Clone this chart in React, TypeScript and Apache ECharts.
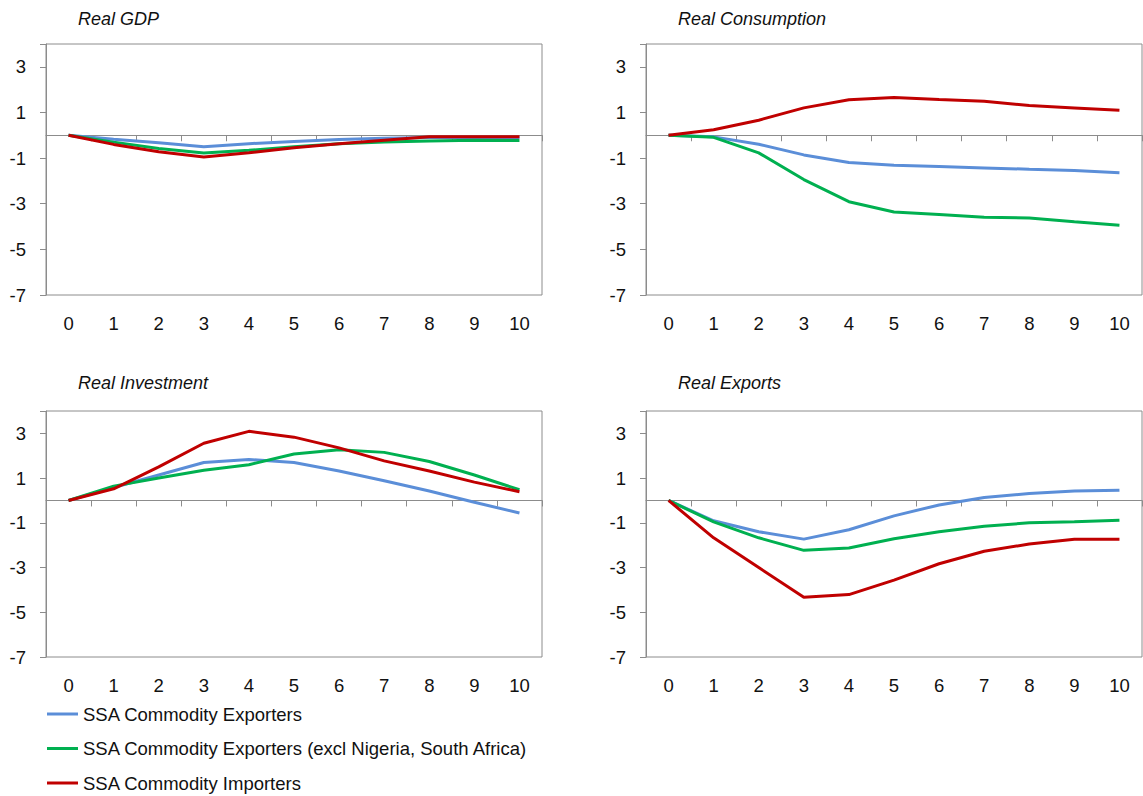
import React, { useEffect, useRef } from 'react';
import * as echarts from 'echarts';

// Periods after the shock
const periods = ['0', '1', '2', '3', '4', '5', '6', '7', '8', '9', '10'];

const seriesNames = [
  'SSA Commodity Exporters',
  'SSA Commodity Exporters (excl Nigeria, South Africa)',
  'SSA Commodity Importers',
];
const seriesColors = ['#5b8ed8', '#00b050', '#c00000'];

const panelTitles = ['Real GDP', 'Real Consumption', 'Real Investment', 'Real Exports'];

// Real GDP
const gdpExporters = [0, -0.17, -0.33, -0.5, -0.37, -0.27, -0.18, -0.13, -0.1, -0.1, -0.1];
const gdpExportersExcl = [0, -0.3, -0.58, -0.78, -0.66, -0.5, -0.37, -0.3, -0.25, -0.22, -0.23];
const gdpImporters = [0, -0.4, -0.72, -0.95, -0.77, -0.55, -0.37, -0.22, -0.07, -0.07, -0.07];

// Real Consumption
const consExporters = [0, -0.07, -0.39, -0.86, -1.19, -1.31, -1.37, -1.43, -1.49, -1.54, -1.64];
const consExportersExcl = [0, -0.09, -0.77, -1.94, -2.91, -3.36, -3.47, -3.59, -3.63, -3.79, -3.94];
const consImporters = [0, 0.24, 0.66, 1.2, 1.56, 1.66, 1.57, 1.49, 1.3, 1.2, 1.1];

// Real Investment
const invExporters = [0, 0.58, 1.14, 1.7, 1.83, 1.7, 1.32, 0.88, 0.42, -0.08, -0.56];
const invExportersExcl = [0, 0.64, 1.0, 1.35, 1.6, 2.08, 2.27, 2.15, 1.74, 1.14, 0.48];
const invImporters = [0, 0.52, 1.5, 2.56, 3.09, 2.83, 2.35, 1.77, 1.32, 0.82, 0.39];

// Real Exports
const expExporters = [0, -0.91, -1.4, -1.73, -1.31, -0.69, -0.2, 0.13, 0.31, 0.42, 0.46];
const expExportersExcl = [0, -0.96, -1.67, -2.23, -2.13, -1.71, -1.4, -1.15, -1.0, -0.95, -0.89];
const expImporters = [0, -1.67, -3.0, -4.33, -4.21, -3.56, -2.83, -2.27, -1.95, -1.73, -1.73];

const panelData = [
  [gdpExporters, gdpExportersExcl, gdpImporters],
  [consExporters, consExportersExcl, consImporters],
  [invExporters, invExportersExcl, invImporters],
  [expExporters, expExportersExcl, expImporters],
];

// no narrow font available, so a slightly smaller regular sans keeps the widths
const FONT = "'Liberation Sans', Arial, sans-serif";
const AXIS_GREY = '#8c8c8c';
const TEXT = '#111';

// grid boxes: [left, top, width, height]
const grids = [
  [46, 44, 496, 251],
  [646, 44, 496, 251],
  [46, 411, 496, 246],
  [646, 411, 496, 246],
];
const titlePos = [
  [78, 10],
  [678, 10],
  [78, 374],
  [678, 374],
];

export default function App() {
  const ref = useRef<HTMLDivElement>(null);

  useEffect(() => {
    if (!ref.current) return;
    const chart = echarts.init(ref.current, undefined, { renderer: 'svg' });

    const xAxes: any[] = [];
    const yAxes: any[] = [];
    const series: any[] = [];

    grids.forEach((_, i) => {
      // axis drawn on the zero line, ticks between categories
      xAxes.push({
        type: 'category',
        gridIndex: i,
        position: 'bottom',
        data: periods,
        boundaryGap: true,
        axisLine: { onZero: true, lineStyle: { color: AXIS_GREY, width: 1 } },
        axisTick: { show: true, length: 6, lineStyle: { color: AXIS_GREY } },
        axisLabel: { show: false },
        splitLine: { show: false },
      });
      // labels at the bottom of the plot
      xAxes.push({
        type: 'category',
        gridIndex: i,
        position: 'bottom',
        data: periods,
        boundaryGap: true,
        axisLine: { show: false, onZero: false },
        axisTick: { show: false },
        axisLabel: { show: true, margin: 19, fontSize: 18.5, color: TEXT, fontFamily: FONT },
        splitLine: { show: false },
      });
      yAxes.push({
        type: 'value',
        gridIndex: i,
        min: -7,
        max: 4,
        interval: 2,
        axisLine: { show: true, lineStyle: { color: AXIS_GREY } },
        axisTick: { show: true, length: 6, lineStyle: { color: AXIS_GREY } },
        axisLabel: {
          margin: 20,
          fontSize: 18.5,
          color: TEXT,
          fontFamily: FONT,
          formatter: (v: number) => (v === 4 ? '' : String(v)),
        },
        splitLine: { show: false },
      });
      panelData[i].forEach((values, s) => {
        series.push({
          name: seriesNames[s],
          type: 'line',
          xAxisIndex: i * 2,
          yAxisIndex: i,
          data: values,
          symbol: 'none',
          color: seriesColors[s],
          lineStyle: { width: 3, color: seriesColors[s] },
          z: 3 + s,
        });
      });
    });

    chart.setOption({
      animation: false,
      backgroundColor: '#fff',
      title: panelTitles.map((t, i) => ({
        text: t,
        left: titlePos[i][0],
        top: titlePos[i][1],
        padding: 0,
        textStyle: {
          fontFamily: FONT,
          fontSize: 18,
          fontStyle: 'italic',
          fontWeight: 'normal',
          color: TEXT,
        },
      })),
      grid: grids.map(([left, top, width, height]) => ({
        left,
        top,
        width,
        height,
        show: true,
        borderColor: AXIS_GREY,
        borderWidth: 1,
        backgroundColor: 'transparent',
      })),
      legend: {
        orient: 'vertical',
        left: 47,
        top: 703,
        padding: 0,
        itemGap: 12.5,
        icon: 'rect',
        itemWidth: 31,
        itemHeight: 3,
        data: seriesNames,
        textStyle: { fontFamily: FONT, fontSize: 18.5, color: TEXT, lineHeight: 22 },
      },
      xAxis: xAxes,
      yAxis: yAxes,
      series,
    });

    return () => chart.dispose();
  }, []);

  return (
    <div
      ref={ref}
      style={{ position: 'absolute', left: 0, top: 0, width: 1143, height: 796 }}
    ></div>
  );
}
